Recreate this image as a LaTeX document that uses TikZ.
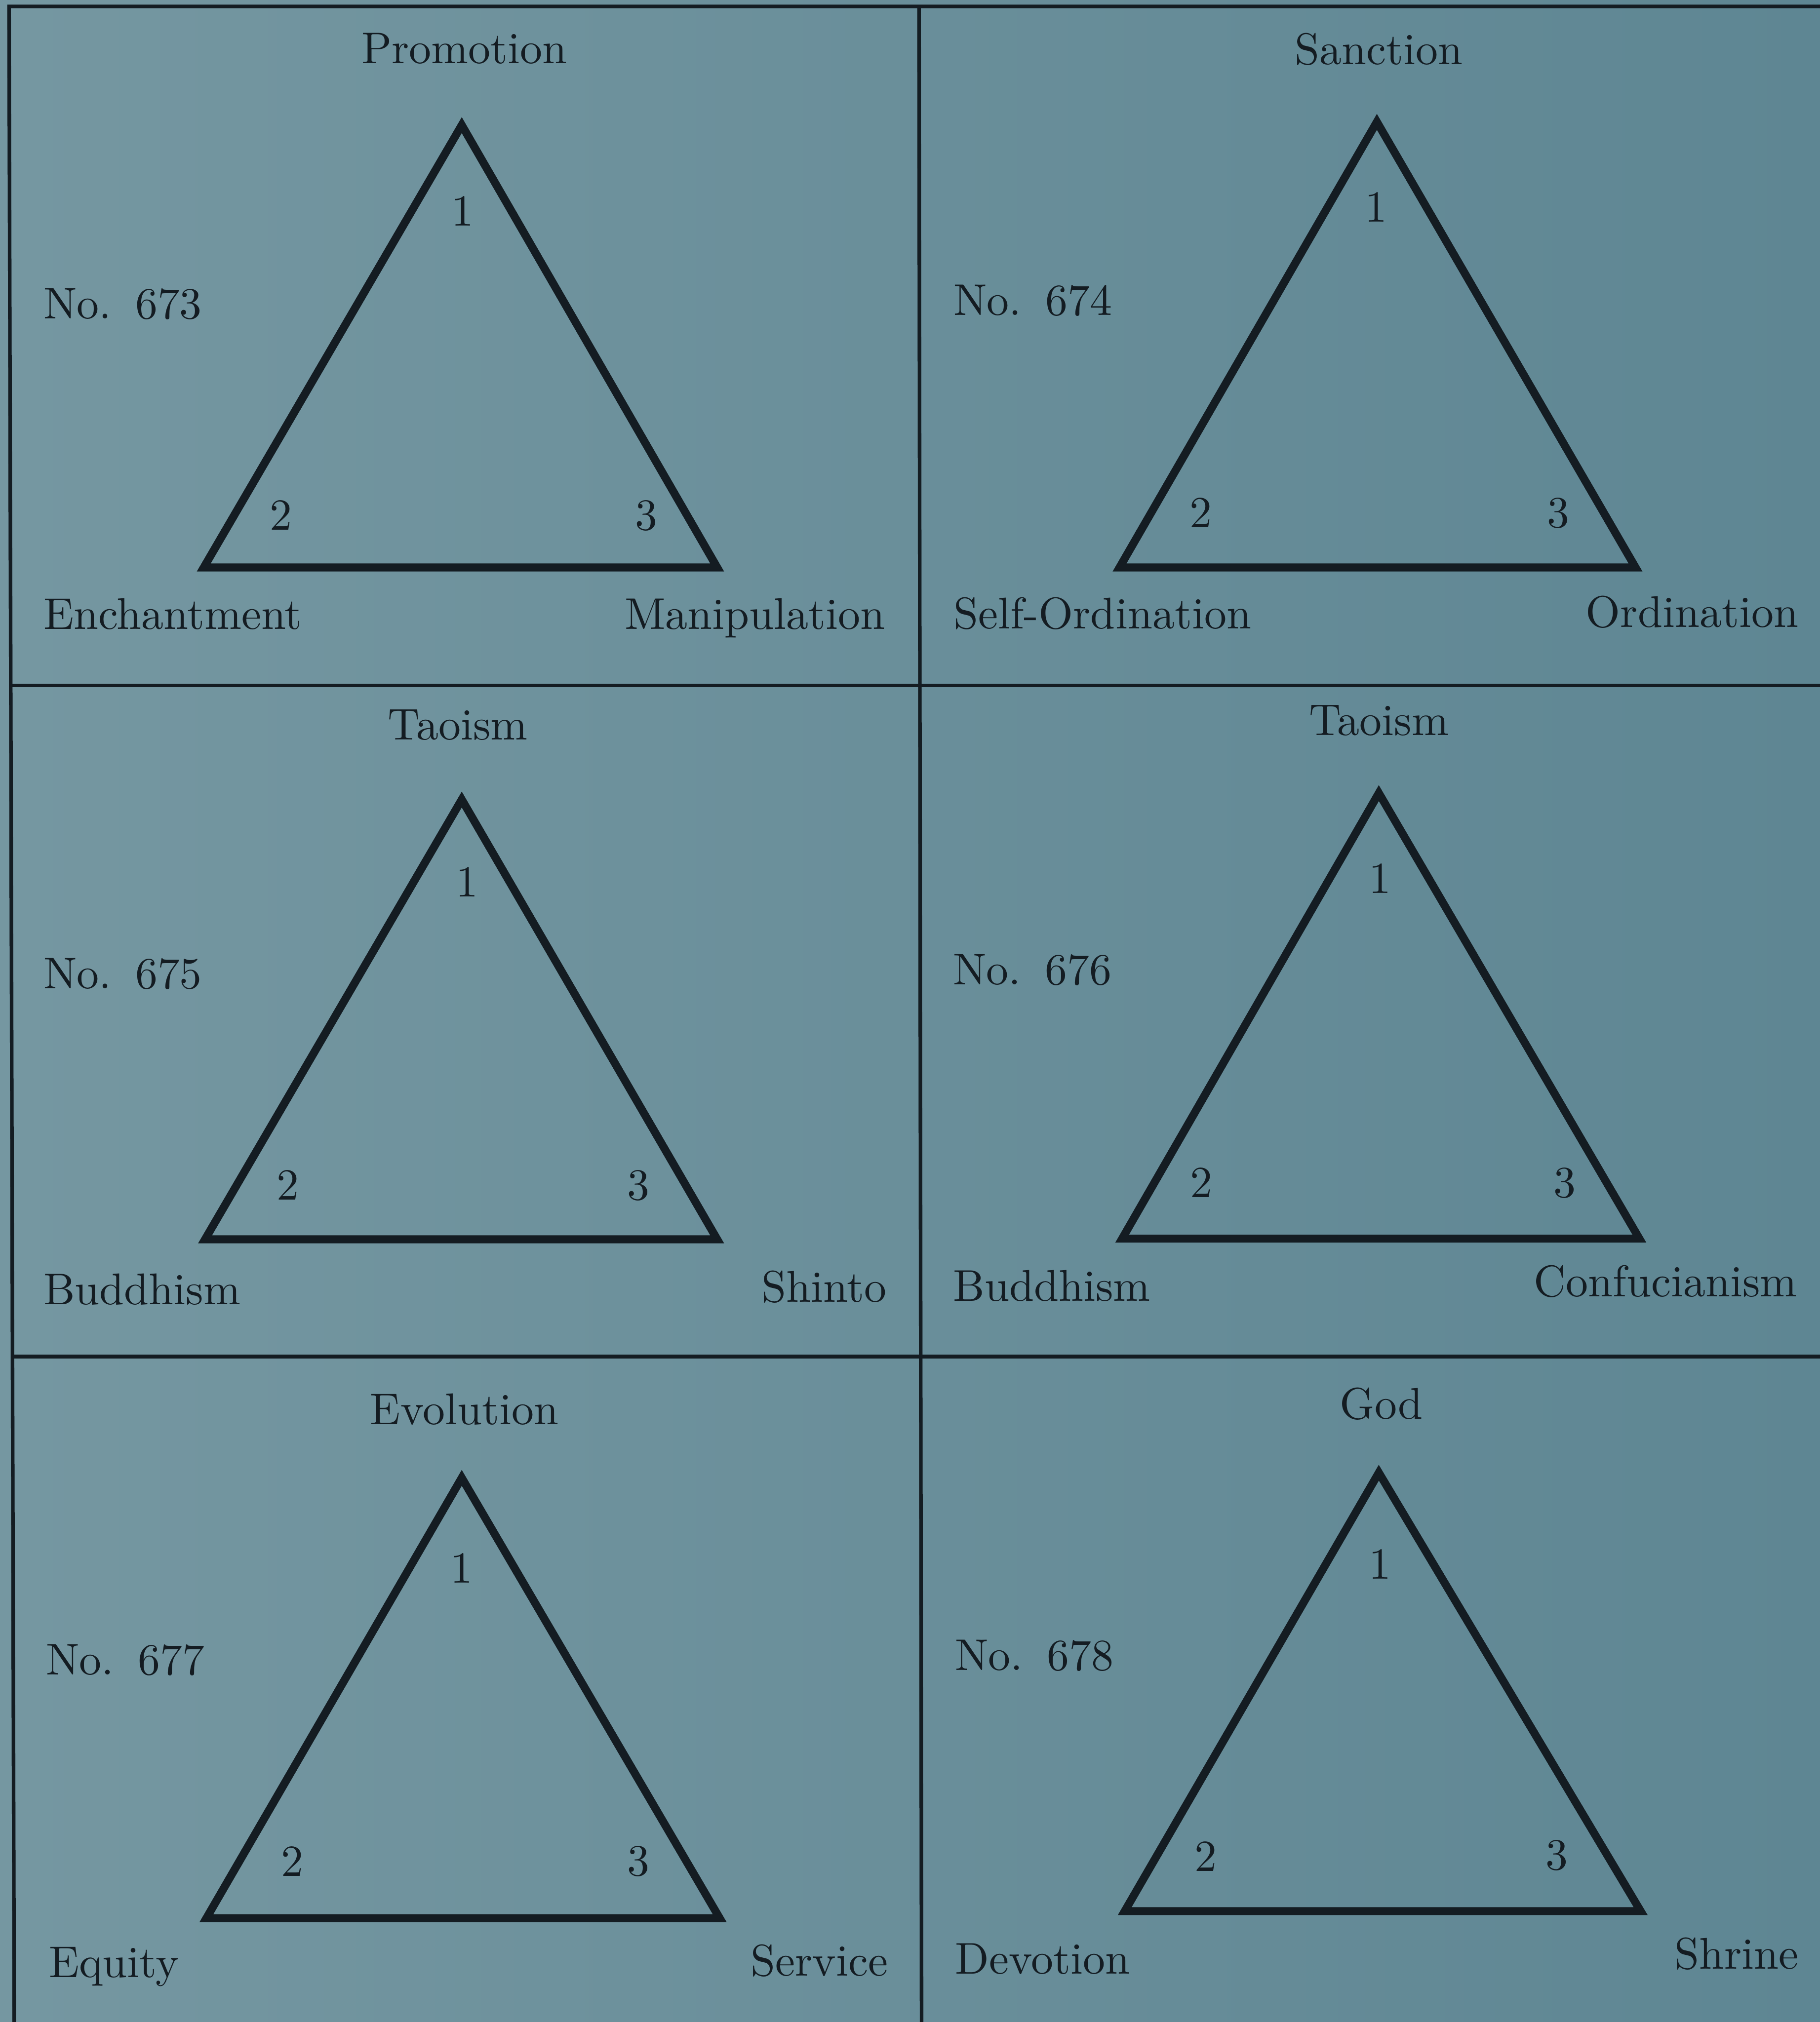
\documentclass[tikz,border=0pt]{standalone}
\definecolor{ink}{RGB}{20,28,34}
\definecolor{bgl}{RGB}{117,151,161}
\definecolor{bgr}{RGB}{94,134,147}
\begin{document}
\begin{tikzpicture}[x=0.1mm,y=-0.1mm,
  gridline/.style={draw=ink, line width=0.28mm},
  tri/.style={draw=ink, line width=0.62mm, line join=miter},
  lab/.style={inner sep=0pt, text=ink, font=\fontsize{9.8}{12}\selectfont},
  top/.style={lab, anchor=base},
  num/.style={lab, anchor=base},
  lft/.style={lab, anchor=base west},
  rgt/.style={lab, anchor=base east}]
\shade[left color=bgl, right color=bgr] (0,0) rectangle (1411,1568);
\useasboundingbox (0,0) rectangle (1411,1568);
% frame and grid
\draw[gridline] (11,1568) -- (7,5) -- (1411,5);
\draw[gridline] (712.5,5) -- (714.5,1568);
\draw[gridline] (8,531.5) -- (1411,531.5);
\draw[gridline] (9,1052) -- (1411,1052);

% ---------- No. 673
\coordinate (a1) at (358,97);
\coordinate (b1) at (158,440);
\coordinate (c1) at (556,440);
\draw[tri] (a1) -- (b1) -- (c1) -- cycle;
\node[top] (t1) at (360,49) {Promotion};
\node[num] (a1n) at (358.5,175) {1};
\node[num] (b1n) at (218,411) {2};
\node[num] (c1n) at (501,411) {3};
\node[lft] (no1) at (33,247) {No.\hspace{.54em}673};
\node[lft] (l1) at (33,488) {Enchantment};
\node[rgt] (r1) at (687,488) {Manipulation};

% ---------- No. 674
\coordinate (a2) at (1067.5,94.5);
\coordinate (b2) at (868,440);
\coordinate (c2) at (1268,440);
\draw[tri] (a2) -- (b2) -- (c2) -- cycle;
\node[top] (t2) at (1069,50) {Sanction};
\node[num] (a2n) at (1067,172) {1};
\node[num] (b2n) at (931,409) {2};
\node[num] (c2n) at (1208,409) {3};
\node[lft] (no2) at (738.6,244.5) {No.\hspace{.54em}674};
\node[lft] (l2) at (738.6,487.5) {Self-Ordination};
\node[rgt] (r2) at (1395,486.5) {Ordination};

% ---------- No. 675
\coordinate (a3) at (358,620);
\coordinate (b3) at (159,961);
\coordinate (c3) at (556,961);
\draw[tri] (a3) -- (b3) -- (c3) -- cycle;
\node[top] (t3) at (355,573.5) {Taoism};
\node[num] (a3n) at (362,695.5) {1};
\node[num] (b3n) at (223,930.5) {2};
\node[num] (c3n) at (495,930.5) {3};
\node[lft] (no3) at (33,766.5) {No.\hspace{.54em}675};
\node[lft] (l3) at (33,1011.5) {Buddhism};
\node[rgt] (r3) at (688,1009.5) {Shinto};

% ---------- No. 676
\coordinate (a4) at (1069,615);
\coordinate (b4) at (870,960.5);
\coordinate (c4) at (1271,960.5);
\draw[tri] (a4) -- (b4) -- (c4) -- cycle;
\node[top] (t4) at (1069,570) {Taoism};
\node[num] (a4n) at (1070,692.5) {1};
\node[num] (b4n) at (931.5,928.5) {2};
\node[num] (c4n) at (1213,928.5) {3};
\node[lft] (no4) at (738.3,763.5) {No.\hspace{.54em}676};
\node[lft] (l4) at (738.3,1008.7) {Buddhism};
\node[rgt] (r4) at (1394,1005.5) {Confucianism};

% ---------- No. 677
\coordinate (a5) at (358,1146);
\coordinate (b5) at (160,1487.5);
\coordinate (c5) at (558,1487.5);
\draw[tri] (a5) -- (b5) -- (c5) -- cycle;
\node[top] (t5) at (360,1104.5) {Evolution};
\node[num] (a5n) at (358,1227.5) {1};
\node[num] (b5n) at (226.6,1455) {2};
\node[num] (c5n) at (495,1454.5) {3};
\node[lft] (no5) at (35,1298.5) {No.\hspace{.54em}677};
\node[lft] (l5) at (37.2,1533.5) {Equity};
\node[rgt] (r5) at (689,1532) {Service};

% ---------- No. 678
\coordinate (a6) at (1069,1142);
\coordinate (b6) at (872,1482);
\coordinate (c6) at (1272,1482);
\draw[tri] (a6) -- (b6) -- (c6) -- cycle;
\node[top] (t6) at (1071,1100.5) {God};
\node[num] (a6n) at (1070,1224.5) {1};
\node[num] (b6n) at (935,1451) {2};
\node[num] (c6n) at (1207,1450) {3};
\node[lft] (no6) at (739.7,1295.3) {No.\hspace{.54em}678};
\node[lft] (l6) at (740,1530.5) {Devotion};
\node[rgt] (r6) at (1395,1527) {Shrine};
\end{tikzpicture}
\end{document}
